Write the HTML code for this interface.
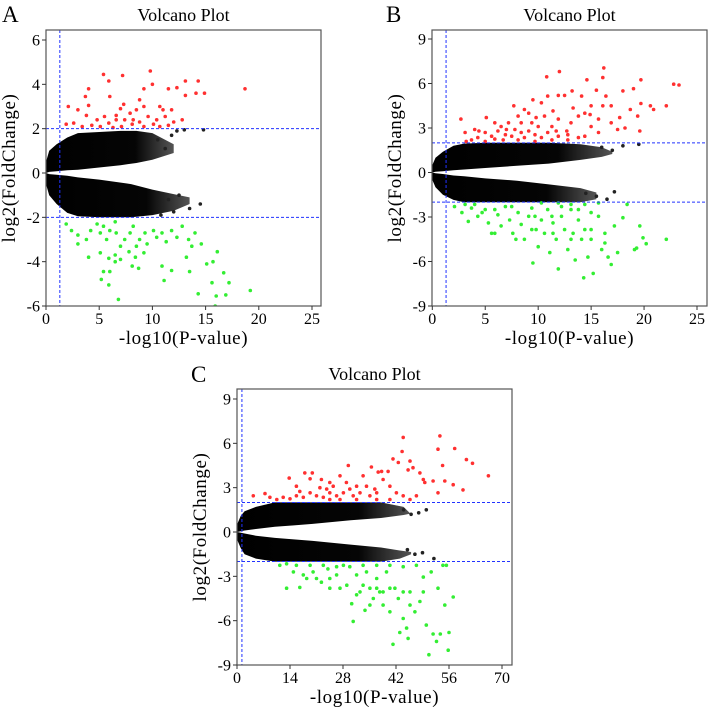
<!DOCTYPE html>
<html><head><meta charset="utf-8">
<style>
html,body{margin:0;padding:0;background:#fff;}
svg{display:block;font-family:"Liberation Serif",serif;}
</style></head>
<body>
<svg id="fig" width="709" height="707" viewBox="0 0 709 707" xmlns="http://www.w3.org/2000/svg">
<defs>
<linearGradient id="cloudGrad" x1="0" y1="0" x2="1" y2="0">
<stop offset="0" stop-color="#000"/><stop offset="0.7" stop-color="#050505"/><stop offset="1" stop-color="#555"/>
</linearGradient>
</defs>
</svg>
<script>
// ===== Panel A data =====
const aXTicks=[0,5,10,15,20,25];
const aYTicks=[-6,-4,-2,0,2,4,6];
const aUpX=[0,0.3,1,2,3,5,7,8.5,10,12];
const aUpOuter=[0.5,1.0,1.3,1.6,1.8,1.85,1.9,1.9,1.8,1.3];
const aUpInner=[0,0.05,0.08,0.12,0.15,0.25,0.35,0.45,0.6,0.9];
const aLoX=[0,0.3,1,2,3,5,8,10,12,13.5];
const aLoOuter=[-0.5,-1.0,-1.4,-1.8,-1.95,-2,-2,-1.9,-1.7,-1.4];
const aLoInner=[0,-0.05,-0.08,-0.12,-0.2,-0.3,-0.5,-0.75,-0.95,-1.1];
const aBlackX=[10.5,11.2,11.8,12.3,13.0,14.8,11.5,12.5,13.5,14.5,12.0,10.8];
const aBlackY=[1.5,1.1,1.7,1.9,1.95,1.95,-1.2,-1.0,-1.6,-1.4,-1.75,-1.9];
const aRedX=[5.4,9.8,7.2,5.9,4.0,13.1,14.3,18.7,9.2,10.0,11.5,12.3,14.1,14.9,13.1,2.1,3.0,3.7,4.0,6.0,7.3,8.8,9.2,10.7,11.0,11.8,6.6,7.0,7.9,8.5,3.8,4.8,5.5,5.9,6.6,7.4,8.2,8.8,9.6,10.4,11.2,12.8,1.9,2.6,3.4,4.3,5.1,6.3,7.1,8.1,9.2,10.1,10.7,11.5,12.0];
const aRedY=[4.45,4.6,4.4,4.15,3.8,4.15,4.15,3.8,3.8,4.0,3.8,3.85,3.6,3.6,3.5,3.0,2.85,3.45,3.05,3.45,3.1,3.3,3.0,3.0,2.85,2.85,2.6,2.9,2.7,2.85,2.6,2.4,2.55,2.25,2.4,2.4,2.4,2.3,2.55,2.4,2.55,2.4,2.2,2.25,2.1,2.15,2.1,2.05,2.1,2.2,2.1,2.2,2.1,2.15,2.3];
const aGreenX=[1.9,2.4,3.0,3.0,3.8,4.2,4.8,5.1,5.4,5.7,6.0,6.5,6.6,7.0,7.4,7.9,8.2,8.5,8.8,9.3,9.5,10.1,10.4,10.9,11.3,11.8,12.3,12.8,13.4,13.7,14.0,14.6,4.0,5.1,5.9,6.5,7.0,7.8,8.4,8.7,6.5,8.1,9.2,10.9,11.8,13.2,13.5,15.1,15.7,16.1,5.4,5.2,6.0,5.9,6.8,11.1,14.3,15.6,16.7,17.2,16.0,16.9,19.2,15.9];
const aGreenY=[-2.3,-2.6,-2.8,-3.2,-3.0,-2.6,-2.3,-2.7,-2.4,-3.0,-2.6,-2.2,-2.7,-3.3,-3.0,-2.7,-2.4,-3.3,-3.0,-2.7,-3.2,-2.6,-2.9,-2.7,-3.1,-2.6,-2.9,-2.4,-3.0,-3.3,-2.7,-3.2,-3.8,-3.6,-3.85,-3.7,-3.9,-3.55,-3.8,-4.3,-4.0,-4.2,-3.6,-4.2,-4.4,-3.8,-4.45,-4.1,-4.0,-3.55,-4.45,-4.8,-4.45,-5.05,-5.7,-4.85,-5.45,-4.95,-4.5,-4.95,-5.55,-5.5,-5.3,-6.0];

// ===== Panel B data =====
const bXTicks=[0,5,10,15,20,25];
const bYTicks=[-9,-6,-3,0,3,6,9];
const bUpX=[0,0.3,1,2,3,5,8,11,14,16,17];
const bUpOuter=[0.5,1.0,1.4,1.8,1.95,2,2,2,1.9,1.7,1.4];
const bUpInner=[0,0.05,0.08,0.15,0.2,0.3,0.45,0.6,0.85,1.05,1.25];
const bLoX=[0,0.3,1,2,3,5,8,11,14,15.5];
const bLoOuter=[-0.5,-1.0,-1.5,-1.85,-2,-2,-2,-2,-2,-1.8];
const bLoInner=[0,-0.05,-0.1,-0.2,-0.25,-0.4,-0.55,-0.8,-1.05,-1.35];
const bBlackX=[16,17,18,19.5,14.5,15.5,16.5,17.2];
const bBlackY=[1.7,1.5,1.8,1.9,-1.4,-1.6,-1.8,-1.3];
const bRedX=[2.7,3.1,4.0,5.1,5.9,6.5,7.7,8.1,8.7,9.5,10.3,10.8,12.0,10.9,11.9,12.5,13.2,14.1,14.6,15.5,16.2,16.1,16.4,18.0,19.0,19.7,20.6,20.9,22.1,22.8,23.3,19.7,18.7,19.4,19.6,17.7,16.9,17.5,16.1,15.7,15.0,14.4,13.8,13.1,12.7,11.9,11.3,10.6,10.0,9.4,9.1,8.4,7.8,7.2,6.9,6.2,5.6,5.0,4.3,3.7,3.2,14.4,15.7,13.8,12.8,11.9,10.9,10.3,9.7,8.7,8.1,7.5,6.7,5.9,5.0,12.8,11.3,9.7,9.1,9.8,11.4,13.3,15.0,16.9,18.2,14.9,11.7,8.4,7.0,4.4];
const bRedY=[3.6,2.7,2.9,3.7,3.35,3.1,4.5,3.8,4.25,4.9,4.7,6.45,6.8,5.15,5.2,5.2,5.5,5.15,6.25,5.55,7.05,6.4,5.15,5.5,5.65,6.25,4.5,4.25,4.5,5.95,5.9,4.65,4.25,3.8,2.8,3.7,3.35,2.9,4.5,3.6,3.1,4.0,3.8,3.35,2.8,3.6,3.1,3.8,3.1,3.35,2.8,3.35,2.9,3.35,2.55,2.8,2.45,2.7,2.35,2.2,2.1,2.45,2.7,2.35,2.55,2.45,2.7,2.35,2.55,2.35,2.2,2.45,2.2,2.25,2.1,2.2,2.2,2.1,4.0,3.7,4.15,4.35,4.5,4.5,3.0,3.9,2.8,2.7,2.9,2.8];
const bGreenX=[2.1,2.8,3.7,4.3,5.0,5.3,5.6,6.2,6.5,6.9,7.3,7.6,8.1,8.4,8.7,9.1,9.4,9.5,9.8,10.0,10.3,10.6,10.9,11.1,11.4,11.7,11.9,12.2,12.5,12.8,13.1,13.3,13.5,13.8,14.1,14.3,14.4,14.7,15.0,15.2,15.7,16.0,16.3,16.6,16.9,17.2,17.5,18.0,18.4,19.1,19.3,19.6,19.9,20.2,22.1,3.4,4.7,5.9,7.9,10.3,11.9,13.1,14.4,15.7,11.3,9.7,7.5,5.9,4.0,3.1,12.2,13.8,15.0,9.4,11.4,13.1,15.0,16.3];
const bGreenY=[-2.3,-2.7,-2.4,-2.95,-2.5,-3.4,-4.1,-2.85,-3.6,-2.3,-3.2,-4.1,-2.7,-3.5,-4.5,-2.95,-2.4,-6.1,-3.85,-5.0,-3.2,-4.1,-2.5,-5.4,-3.4,-4.5,-6.5,-2.95,-3.85,-5.2,-2.5,-4.1,-5.9,-3.2,-4.5,-7.1,-3.85,-5.7,-4.5,-6.8,-2.95,-5.2,-4.1,-5.7,-6.2,-3.6,-5.4,-3.05,-2.15,-5.2,-5.1,-3.6,-4.4,-4.8,-4.5,-3.3,-2.7,-4.1,-4.5,-2.05,-2.05,-2.15,-2.15,-2.05,-2.95,-2.95,-2.3,-2.5,-2.15,-2.15,-2.3,-2.5,-2.7,-3.85,-4.1,-4.5,-3.85,-4.75];

// ===== Panel C data =====
const cXTicks=[0,14,28,42,56,70];
const cYTicks=[-9,-6,-3,0,3,6,9];
const cUpX=[0,1,2,5,10,15,20,30,38,44,46];
const cUpOuter=[0.5,1.1,1.4,1.7,2,2,2,2,2,1.7,1.2];
const cUpInner=[0,0.05,0.1,0.2,0.35,0.45,0.55,0.8,0.95,1.15,1.25];
const cLoX=[0,1,2,5,10,15,20,30,38,43,46];
const cLoOuter=[-0.5,-1.1,-1.5,-1.8,-2,-2,-2,-2,-2,-1.8,-1.5];
const cLoInner=[0,-0.05,-0.1,-0.25,-0.4,-0.5,-0.6,-0.85,-1.05,-1.25,-1.35];
const cBlackX=[44,46,48,50,45,47,49,52];
const cBlackY=[1.5,1.2,1.3,1.5,-1.2,-1.5,-1.4,-1.8];
const cRedX=[4.3,7.4,13.8,15.7,17.9,19.9,19.3,22.3,23.7,25.4,27.2,29.4,28.9,31.6,33.3,35.5,37.3,38.2,38.6,39.9,41.2,42.6,43.6,43.9,45.7,46.5,48.3,49.6,51.8,53.1,53.6,54.3,54.9,53.1,57.5,57.1,59.7,60.6,62.2,66.4,42.1,43.9,47.4,40.4,36.9,35.1,32.5,30.7,28.1,26.3,24.5,22.8,21.0,19.3,17.5,15.7,14.0,12.2,10.5,8.7,16.6,21.9,24.5,29.8,34.2,36.4,31.6,27.2,24.5,36.9,40.4,45.7,49.2,45.2];
const cRedY=[2.45,2.6,3.65,3.1,4.0,4.0,3.6,3.55,2.9,3.1,3.8,4.5,3.35,3.1,3.8,4.4,4.05,4.1,3.55,4.1,4.95,4.7,5.45,6.4,4.8,4.35,4.0,3.35,3.45,5.6,6.5,4.5,3.45,2.65,5.65,3.2,2.85,4.9,4.65,3.8,2.65,2.45,2.45,3.1,2.65,2.45,2.65,2.45,2.65,2.45,2.65,2.35,2.45,2.65,2.35,2.45,2.25,2.35,2.2,2.35,2.75,3.0,3.35,2.9,3.1,2.9,2.2,2.2,2.2,2.2,2.2,2.2,3.55,4.2];
const cGreenX=[13.1,16.6,18.4,14.9,11.3,20.1,22.3,24.0,24.5,26.3,28.1,29.0,30.3,30.7,31.6,32.5,33.8,34.2,35.1,36.0,36.9,37.7,38.6,39.5,40.4,41.2,41.7,42.6,43.0,43.9,44.8,45.2,45.7,47.0,48.3,49.2,50.0,50.7,51.8,52.7,53.1,53.7,54.9,55.3,55.8,56.0,57.1,54.4,51.3,47.4,43.9,40.4,36.9,33.3,29.8,26.3,22.8,19.3,15.7,13.1,17.5,21.0,24.5,27.2,33.3,36.9,40.4,43.9,45.7,49.2,31.6,35.1,38.6];
const cGreenY=[-3.8,-3.75,-3.15,-2.7,-2.25,-2.7,-3.4,-2.5,-3.8,-2.9,-2.25,-3.6,-4.85,-6.05,-2.9,-4.05,-5.3,-2.7,-3.8,-4.5,-3.15,-4.05,-4.95,-2.7,-5.4,-7.6,-3.8,-4.5,-6.8,-5.85,-6.5,-7.2,-4.05,-5.4,-4.7,-3.05,-6.3,-8.3,-6.9,-7.4,-3.8,-6.9,-4.95,-2.25,-8.0,-6.8,-4.4,-2.25,-2.7,-2.25,-2.35,-2.25,-2.25,-2.25,-2.35,-2.35,-2.25,-2.25,-2.25,-2.15,-2.9,-3.15,-3.15,-3.8,-3.6,-3.8,-3.8,-4.05,-4.95,-4.05,-4.25,-4.95,-4.05];

const svg=document.getElementById('fig');
const NS='http://www.w3.org/2000/svg';
function mk(tag,attrs,parent){const e=document.createElementNS(NS,tag);for(const k in attrs)e.setAttribute(k,attrs[k]);(parent||svg).appendChild(e);return e;}

function panel(cfg){
  const g=mk('g',{});
  
  
  const sx=v=>cfg.x0px+(v-cfg.xmin)*(cfg.x1px-cfg.x0px)/(cfg.xmax-cfg.xmin);
  const sy=v=>cfg.y0px+(v-cfg.ymin)*(cfg.y1px-cfg.y0px)/(cfg.ymax-cfg.ymin);
  const L=mk('text',{x:cfg.letterX,y:cfg.letterY,'font-size':23,fill:'#000'},g);L.textContent=cfg.letter;
  
  
  const T=mk('text',{x:(cfg.bl+cfg.br)/2,y:cfg.bt-9,'font-size':18,'text-anchor':'middle',fill:'#000'},g);T.textContent='Volcano Plot';
  
  
  const cp=mk('clipPath',{id:'clip'+cfg.id},g);mk('rect',{x:cfg.bl,y:cfg.bt,width:cfg.br-cfg.bl,height:cfg.bb-cfg.bt},cp);
  const plot=mk('g',{'clip-path':'url(#clip'+cfg.id+')'},g);
  
  
  function lobe(xs,outer,inner,name){
    let pts=[];
    for(let i=0;i<xs.length;i++)pts.push(sx(xs[i]).toFixed(1)+','+sy(outer[i]).toFixed(1));
    for(let i=xs.length-1;i>=0;i--)pts.push(sx(xs[i]).toFixed(1)+','+sy(inner[i]).toFixed(1));
    const p=mk('polygon',{points:pts.join(' '),fill:'url(#cloudGrad)',stroke:'none'},plot);
    
    
  }
  lobe(cfg.upX,cfg.upOuter,cfg.upInner,'nonsig-up-cloud-'+cfg.id);
  lobe(cfg.loX,cfg.loOuter,cfg.loInner,'nonsig-down-cloud-'+cfg.id);
  function pts(xs,ys,col,name){
    for(let i=0;i<xs.length;i++){
      const c=mk('circle',{cx:sx(xs[i]).toFixed(1),cy:sy(ys[i]).toFixed(1),r:1.8,fill:col},plot);
      
      
    }
  }
  pts(cfg.blackX,cfg.blackY,'#222','nonsig-gene-point');
  pts(cfg.redX,cfg.redY,'#ff3030','up-gene-point');
  pts(cfg.greenX,cfg.greenY,'#33ee33','down-gene-point');
  const dl=[[sx(1.3),cfg.bt,sx(1.3),cfg.bb,'pvalue-threshold'],[cfg.bl,sy(2),cfg.br,sy(2),'fc-threshold-up'],[cfg.bl,sy(-2),cfg.br,sy(-2),'fc-threshold-down']];
  dl.forEach(d=>{const l=mk('line',{x1:d[0],y1:d[1],x2:d[2],y2:d[3],stroke:'#2233ff','stroke-width':1,'stroke-dasharray':'3,2'},g);
    
    });
  const b=mk('rect',{x:cfg.bl,y:cfg.bt,width:cfg.br-cfg.bl,height:cfg.bb-cfg.bt,fill:'none',stroke:'#555','stroke-width':1.2},g);
  
  
  cfg.xTicks.forEach(v=>{const x=sx(v);mk('line',{x1:x,y1:cfg.bb,x2:x,y2:cfg.bb+4,stroke:'#333'},g);
    const t=mk('text',{x:x,y:cfg.bb+18,'font-size':16,'text-anchor':'middle',fill:'#000'},g);t.textContent=v;
    
    });
  cfg.yTicks.forEach(v=>{const y=sy(v);mk('line',{x1:cfg.bl-4,y1:y,x2:cfg.bl,y2:y,stroke:'#333'},g);
    const t=mk('text',{x:cfg.bl-6,y:y+5.5,'font-size':16,'text-anchor':'end',fill:'#000'},g);t.textContent=v;
    
    });
  const xt=mk('text',{x:(cfg.bl+cfg.br)/2,y:cfg.bb+38,'font-size':19,'text-anchor':'middle',fill:'#000','letter-spacing':'0.6'},g);xt.textContent='-log10(P-value)';
  
  
  const yc=(cfg.bt+cfg.bb)/2;
  const yt=mk('text',{x:cfg.bl-31,y:yc,'font-size':19,'text-anchor':'middle',fill:'#000',transform:'rotate(-90 '+(cfg.bl-31)+' '+yc+')','letter-spacing':'0.6'},g);yt.textContent='log2(FoldChange)';
  
  
}

panel({id:'a',letter:'A',letterX:2,letterY:22,bl:46,br:321,bt:30,bb:306,x0px:46,x1px:312,xmin:0,xmax:25,y0px:306,y1px:40,ymin:-6,ymax:6,
  xTicks:aXTicks,yTicks:aYTicks,upX:aUpX,upOuter:aUpOuter,upInner:aUpInner,loX:aLoX,loOuter:aLoOuter,loInner:aLoInner,blackX:aBlackX,blackY:aBlackY,redX:aRedX,redY:aRedY,greenX:aGreenX,greenY:aGreenY});
panel({id:'b',letter:'B',letterX:386,letterY:22,bl:432,br:707,bt:30,bb:306,x0px:432.3,x1px:697,xmin:0,xmax:25,y0px:306,y1px:39,ymin:-9,ymax:9,
  xTicks:bXTicks,yTicks:bYTicks,upX:bUpX,upOuter:bUpOuter,upInner:bUpInner,loX:bLoX,loOuter:bLoOuter,loInner:bLoInner,blackX:bBlackX,blackY:bBlackY,redX:bRedX,redY:bRedY,greenX:bGreenX,greenY:bGreenY});
panel({id:'c',letter:'C',letterX:191,letterY:382,bl:237,br:512,bt:389,bb:665,x0px:237,x1px:502,xmin:0,xmax:70,y0px:665,y1px:399,ymin:-9,ymax:9,
  xTicks:cXTicks,yTicks:cYTicks,upX:cUpX,upOuter:cUpOuter,upInner:cUpInner,loX:cLoX,loOuter:cLoOuter,loInner:cLoInner,blackX:cBlackX,blackY:cBlackY,redX:cRedX,redY:cRedY,greenX:cGreenX,greenY:cGreenY});
</script>
</body></html>
